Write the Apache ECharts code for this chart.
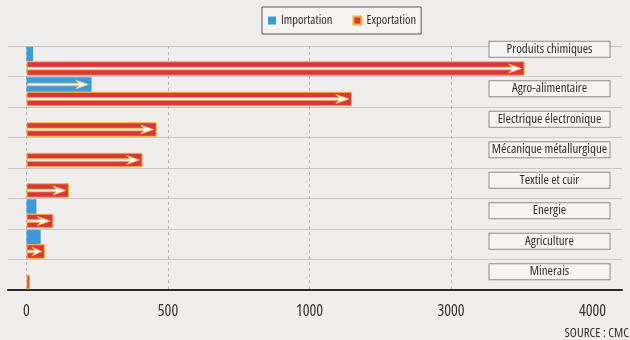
<!DOCTYPE html>
<html>
<head>
<meta charset="utf-8">
<script src="https://cdn.jsdelivr.net/npm/echarts@6.0.0/dist/echarts.min.js"></script>
<style>
  html, body { margin: 0; padding: 0; background: #f0eeed; }
  #chart { width: 630px; height: 340px; }
</style>
</head>
<body>
<div id="chart"></div>
<script>
var categories = ['Produits chimiques', 'Agro-alimentaire', 'Electrique électronique', 'Mécanique métallurgique',
    'Textile et cuir', 'Energie', 'Agriculture', 'Minerais'];
var importValues = [23, 230, 0, 0, 0, 35, 50, 0];
var exportValues = [3520, 1600, 460, 410, 150, 95, 65, 12];
// axe coupé : les graduations sont à pas égal
var tickValues = [0, 500, 1000, 3000, 4000];

var FONT = "'Open Sans', 'Roboto', sans-serif";
var STRETCH = 'condensed';   // police étroite (Open Sans variable)
var BAR_W = 14.5;

// valeur -> position sur l'axe (0..4, une unité par graduation)
function toAxis(v) {
    for (var i = 1; i < tickValues.length; i++) {
        if (v <= tickValues[i]) {
            return i - 1 + (v - tickValues[i - 1]) / (tickValues[i] - tickValues[i - 1]);
        }
    }
    return tickValues.length - 1;
}

var arrowData = [];
for (var i = 0; i < categories.length; i++) {
    arrowData.push([toAxis(importValues[i]), i, -1]);
    arrowData.push([toAxis(exportValues[i]), i, 1]);
}

// flèche blanche dans la barre
function renderArrow(params, api) {
    var cat = api.value(1);
    var p0 = api.coord([0, cat]);
    var p1 = api.coord([api.value(0), cat]);
    var len = p1[0] - p0[0];
    if (len < 17) { return; }
    var cy = p0[1] + api.value(2) * BAR_W / 2;
    var tip = p1[0] - 3;
    var head = Math.min(13, len * 0.55);
    var base = tip - head;
    var s = 1.3, h = 4.5;
    return {
        type: 'polygon',
        shape: {
            points: [[p0[0] + 1, cy - s], [base + 3, cy - s], [base, cy - h], [tip, cy],
                [base, cy + h], [base + 3, cy + s], [p0[0] + 1, cy + s]]
        },
        style: { fill: '#fdf9ef', stroke: '#f2b94a', lineWidth: 0.8 }
    };
}

var boxStyle = {
    fontFamily: FONT, fontStyle: STRETCH, fontSize: 13, color: '#2f2f2f',
    width: 112, height: 13, align: 'center',
    padding: [1, 4, 1, 4],
    backgroundColor: '#f7f5f3', borderColor: '#8d8b89', borderWidth: 1
};

var chart = echarts.init(document.getElementById('chart'));
chart.setOption({
    backgroundColor: '#f0eeed',
    animation: false,
    legend: {
        left: 262, top: 7,
        padding: [7, 5, 7, 6],
        itemWidth: 8, itemHeight: 8, itemGap: 20,
        icon: 'rect',
        borderColor: '#5a5856', borderWidth: 1,
        backgroundColor: '#f6f4f2',
        textStyle: { fontFamily: FONT, fontStyle: STRETCH, fontSize: 12.5, color: '#2f2f2f' },
        data: ['Importation', 'Exportation']
    },
    grid: { left: 8, right: 8, top: 46, bottom: 50, containLabel: false },
    xAxis: {
        type: 'value',
        min: -0.1307,
        max: 4.208,
        axisLine: { show: true, lineStyle: { color: '#2b2b2b', width: 2 } },
        axisTick: { show: false, customValues: [0, 1, 2, 3] },
        axisLabel: {
            customValues: [0, 1, 2, 3, 4],
            margin: 13,
            fontFamily: FONT, fontStyle: STRETCH, fontSize: 16, color: '#333',
            formatter: function (v) { return String(tickValues[Math.round(v)]); }
        },
        splitLine: { show: true, lineStyle: { color: '#b8b6b4', type: [3, 3], width: 1 } }
    },
    yAxis: {
        type: 'category',
        data: categories,
        inverse: true,
        position: 'right',
        axisLine: { show: false },
        axisTick: { show: false },
        splitLine: { show: true, lineStyle: { color: '#cbc9c7', width: 1 } },
        axisLabel: {
            inside: true,
            interval: 0,
            margin: 72.5,
            align: 'center',
            formatter: function (v, i) {
                return '{b|' + v + '}\n' + (i === 0 ? '{g0| }' : '{g| }');
            },
            rich: {
                b: boxStyle,
                g0: { height: 24, lineHeight: 24, fontSize: 2 },
                g: { height: 6, lineHeight: 6, fontSize: 2 }
            }
        }
    },
    series: [
        {
            name: 'Importation',
            type: 'bar',
            barWidth: BAR_W,
            barGap: '0%',
            itemStyle: { color: '#3d9ad8' },
            data: importValues.map(toAxis)
        },
        {
            name: 'Exportation',
            type: 'bar',
            barWidth: BAR_W,
            barGap: '0%',
            itemStyle: { color: '#d8383a', borderColor: '#f4b43c', borderWidth: 1 },
            data: exportValues.map(toAxis)
        },
        {
            type: 'custom',
            silent: true,
            z: 5,
            renderItem: renderArrow,
            encode: { x: 0, y: 1 },
            data: arrowData
        }
    ],
    graphic: [{
        type: 'text',
        right: 1, top: 327,
        style: { text: 'SOURCE : CMC', fontFamily: FONT, fontStyle: STRETCH, fontSize: 13, fill: '#333' }
    }]
});
</script>
</body>
</html>
